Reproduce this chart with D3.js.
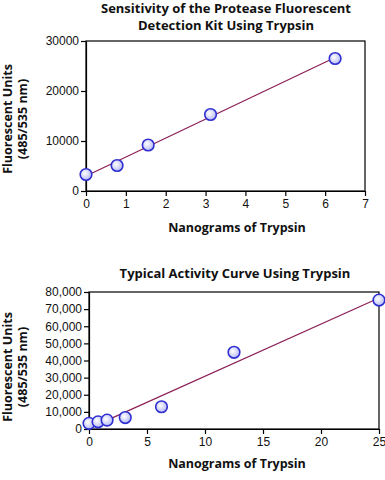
<!DOCTYPE html>
<html>
<head>
<meta charset="utf-8">
<script src="https://cdn.jsdelivr.net/npm/d3@7"></script>
<style>
  body { margin: 0; background: #fff; }
  svg { display: block; font-family: "Open Sans", sans-serif; }
  .axis path, .axis line { stroke: #000; stroke-width: 1.2; }
  .axis text { font-size: 12px; fill: #111; }
  .title, .xlabel, .ylabel { font-weight: bold; font-size: 12.5px; fill: #111; }
  .title { font-size: 13px; }
</style>
</head>
<body>
<svg width="385" height="480"></svg>
<script>
// top chart: sensitivity
const sensNg = [0, 0.78, 1.56, 3.125, 6.25];
const sensFluor = [3300, 5100, 9200, 15300, 26500];
const sensXTicks = [0, 1, 2, 3, 4, 5, 6, 7];
const sensYTicks = [0, 10000, 20000, 30000];

// bottom chart: activity curve
const actNg = [0, 0.78, 1.56, 3.125, 6.25, 12.5, 25];
const actFluor = [3300, 4200, 5200, 6700, 13000, 44800, 75300];
const actXTicks = [0, 5, 10, 15, 20, 25];
const actYTicks = [0, 10000, 20000, 30000, 40000, 50000, 60000, 70000, 80000];

const svg = d3.select("svg");

function fit(xs, ys) {
    const mx = d3.mean(xs), my = d3.mean(ys);
    const sxy = d3.sum(xs, (x, i) => (x - mx) * (ys[i] - my));
    const sxx = d3.sum(xs, x => (x - mx) * (x - mx));
    const b = sxy / sxx;
    return {a: my - b * mx, b: b};
}

function drawScatter(opt) {
    const g = svg.append("g");
    const x = d3.scaleLinear().domain(opt.xDomain).range([opt.left, opt.right]);
    const y = d3.scaleLinear().domain(opt.yDomain).range([opt.bottom, opt.top]);

    // box
    g.append("rect")
        .attr("x", opt.left).attr("y", opt.top)
        .attr("width", opt.right - opt.left).attr("height", opt.bottom - opt.top)
        .attr("fill", "none").attr("stroke", "#000").attr("stroke-width", 1.2);

    g.append("g")
        .attr("class", "axis")
        .attr("transform", `translate(0, ${opt.bottom})`)
        .call(d3.axisBottom(x).tickValues(opt.xTicks).tickSize(5).tickPadding(3).tickSizeOuter(0)
                .tickFormat(d3.format("d")));

    g.append("g")
        .attr("class", "axis")
        .attr("transform", `translate(${opt.left}, 0)`)
        .call(d3.axisLeft(y).tickValues(opt.yTicks).tickSize(5).tickPadding(2).tickSizeOuter(0)
                .tickFormat(opt.yFormat));

    const f = fit(opt.xs, opt.ys);
    const x0 = d3.min(opt.xs), x1 = d3.max(opt.xs);
    g.append("line")
        .attr("x1", x(x0)).attr("y1", y(f.a + f.b * x0))
        .attr("x2", x(x1)).attr("y2", y(f.a + f.b * x1))
        .attr("stroke", "#8a1f55").attr("stroke-width", 1.2);

    g.selectAll(".pt")
        .data(opt.xs.map((v, i) => [v, opt.ys[i]]))
        .enter().append("circle")
            .attr("class", "pt")
            .attr("cx", d => x(d[0]))
            .attr("cy", d => y(d[1]))
            .attr("r", 5.8)
            .attr("fill", "url(#ptfill)")
            .attr("stroke", "#2f2fd0")
            .attr("stroke-width", 1.6);

    opt.title.forEach((t, i) => {
        g.append("text").attr("class", "title")
            .attr("x", opt.titleX).attr("y", opt.titleY + i * 17.8)
            .attr("text-anchor", "middle").text(t);
    });

    g.append("text").attr("class", "xlabel")
        .attr("x", 237).attr("y", opt.xLabelY)
        .attr("text-anchor", "middle").text("Nanograms of Trypsin");

    ["Fluorescent Units", "(485/535 nm)"].forEach((t, i) => {
        g.append("text").attr("class", "ylabel")
            .attr("transform", `translate(${12 + i * 15}, ${opt.yLabelC}) rotate(-90)`)
            .attr("text-anchor", "middle").text(t);
    });
}

const defs = svg.append("defs");
const grad = defs.append("radialGradient").attr("id", "ptfill")
    .attr("cx", "40%").attr("cy", "40%").attr("r", "60%");
grad.append("stop").attr("offset", "0%").attr("stop-color", "#ffffff");
grad.append("stop").attr("offset", "100%").attr("stop-color", "#b8bcf5");

drawScatter({
    xs: sensNg, ys: sensFluor,
    xDomain: [0, 7], yDomain: [0, 30000],
    xTicks: sensXTicks, yTicks: sensYTicks,
    yFormat: d3.format("d"),
    left: 86, right: 365, top: 41, bottom: 191,
    title: ["Sensitivity of the Protease Fluorescent", "Detection Kit Using Trypsin"],
    titleX: 226, titleY: 12.5,
    xLabelY: 232, yLabelC: 119
});

drawScatter({
    xs: actNg, ys: actFluor,
    xDomain: [0, 25], yDomain: [0, 80000],
    xTicks: actXTicks, yTicks: actYTicks,
    yFormat: d3.format(","),
    left: 89, right: 379, top: 292, bottom: 429,
    title: ["Typical Activity Curve Using Trypsin"],
    titleX: 235, titleY: 278,
    xLabelY: 468, yLabelC: 367
});
</script>
</body>
</html>
